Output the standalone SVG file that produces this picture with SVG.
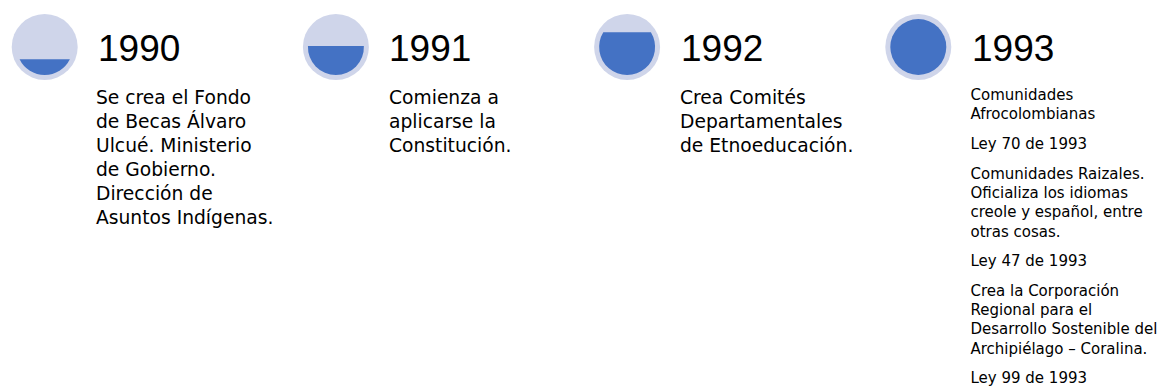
<svg xmlns="http://www.w3.org/2000/svg" width="1160" height="387" viewBox="0 0 1160 387">
<style>
.outer{fill:#CFD5EA}
.inner{fill:#4472C4}
.year{font-family:"Liberation Sans",Arial,sans-serif;font-size:37px;fill:#000}
.body{font-family:"DejaVu Sans",sans-serif;font-size:18.7px;fill:#000}
.small{font-family:"DejaVu Sans",sans-serif;font-size:15px;fill:#000}
</style>
<rect width="1160" height="387" fill="#fff"/>
<g id="node-1990">
<circle class="outer" cx="44.7" cy="47" r="33"/>
<path class="inner" d="M19.55 59.3 A28 28 0 0 0 69.85 59.3 Z"/>
<text class="year" x="98" y="61">1990</text>
<text class="body" x="96" y="104.3">
<tspan x="96" y="104.3">Se crea el Fondo</tspan>
<tspan x="96" y="128.3">de Becas Álvaro</tspan>
<tspan x="96" y="152.3">Ulcué. Ministerio</tspan>
<tspan x="96" y="176.3">de Gobierno.</tspan>
<tspan x="96" y="200.3">Dirección de</tspan>
<tspan x="96" y="224.3">Asuntos Indígenas.</tspan>
</text>
</g>
<g id="node-1991">
<circle class="outer" cx="335.9" cy="47" r="33"/>
<path class="inner" d="M307.92 46 A28 28 0 1 0 363.88 46 Z"/>
<text class="year" x="389" y="61">1991</text>
<text class="body" x="389" y="104.3">
<tspan x="389" y="104.3">Comienza a</tspan>
<tspan x="389" y="128.3">aplicarse la</tspan>
<tspan x="389" y="152.3">Constitución.</tspan>
</text>
</g>
<g id="node-1992">
<circle class="outer" cx="627.1" cy="47" r="33"/>
<path class="inner" d="M603.3 32.3 A28 28 0 1 0 650.9 32.3 Z"/>
<text class="year" x="681" y="61">1992</text>
<text class="body" x="680" y="104.3">
<tspan x="680" y="104.3">Crea Comités</tspan>
<tspan x="680" y="128.3">Departamentales</tspan>
<tspan x="680" y="152.3">de Etnoeducación.</tspan>
</text>
</g>
<g id="node-1993">
<circle class="outer" cx="918.3" cy="47" r="33"/>
<circle class="inner" cx="918.3" cy="47" r="28"/>
<text class="year" x="972" y="61">1993</text>
<text class="small">
<tspan x="970.5" y="100">Comunidades</tspan>
<tspan x="970.5" y="119.3">Afrocolombianas</tspan>
<tspan x="970.5" y="149">Ley 70 de 1993</tspan>
<tspan x="970.5" y="178.6">Comunidades Raizales.</tspan>
<tspan x="970.5" y="197.9">Oficializa los idiomas</tspan>
<tspan x="970.5" y="217.2">creole y español, entre</tspan>
<tspan x="970.5" y="236.5">otras cosas.</tspan>
<tspan x="970.5" y="266.1">Ley 47 de 1993</tspan>
<tspan x="970.5" y="295.7">Crea la Corporación</tspan>
<tspan x="970.5" y="315">Regional para el</tspan>
<tspan x="970.5" y="334.3">Desarrollo Sostenible del</tspan>
<tspan x="970.5" y="353.6">Archipiélago – Coralina.</tspan>
<tspan x="970.5" y="383.2">Ley 99 de 1993</tspan>
</text>
</g>
<g id="connectors"></g>
</svg>
